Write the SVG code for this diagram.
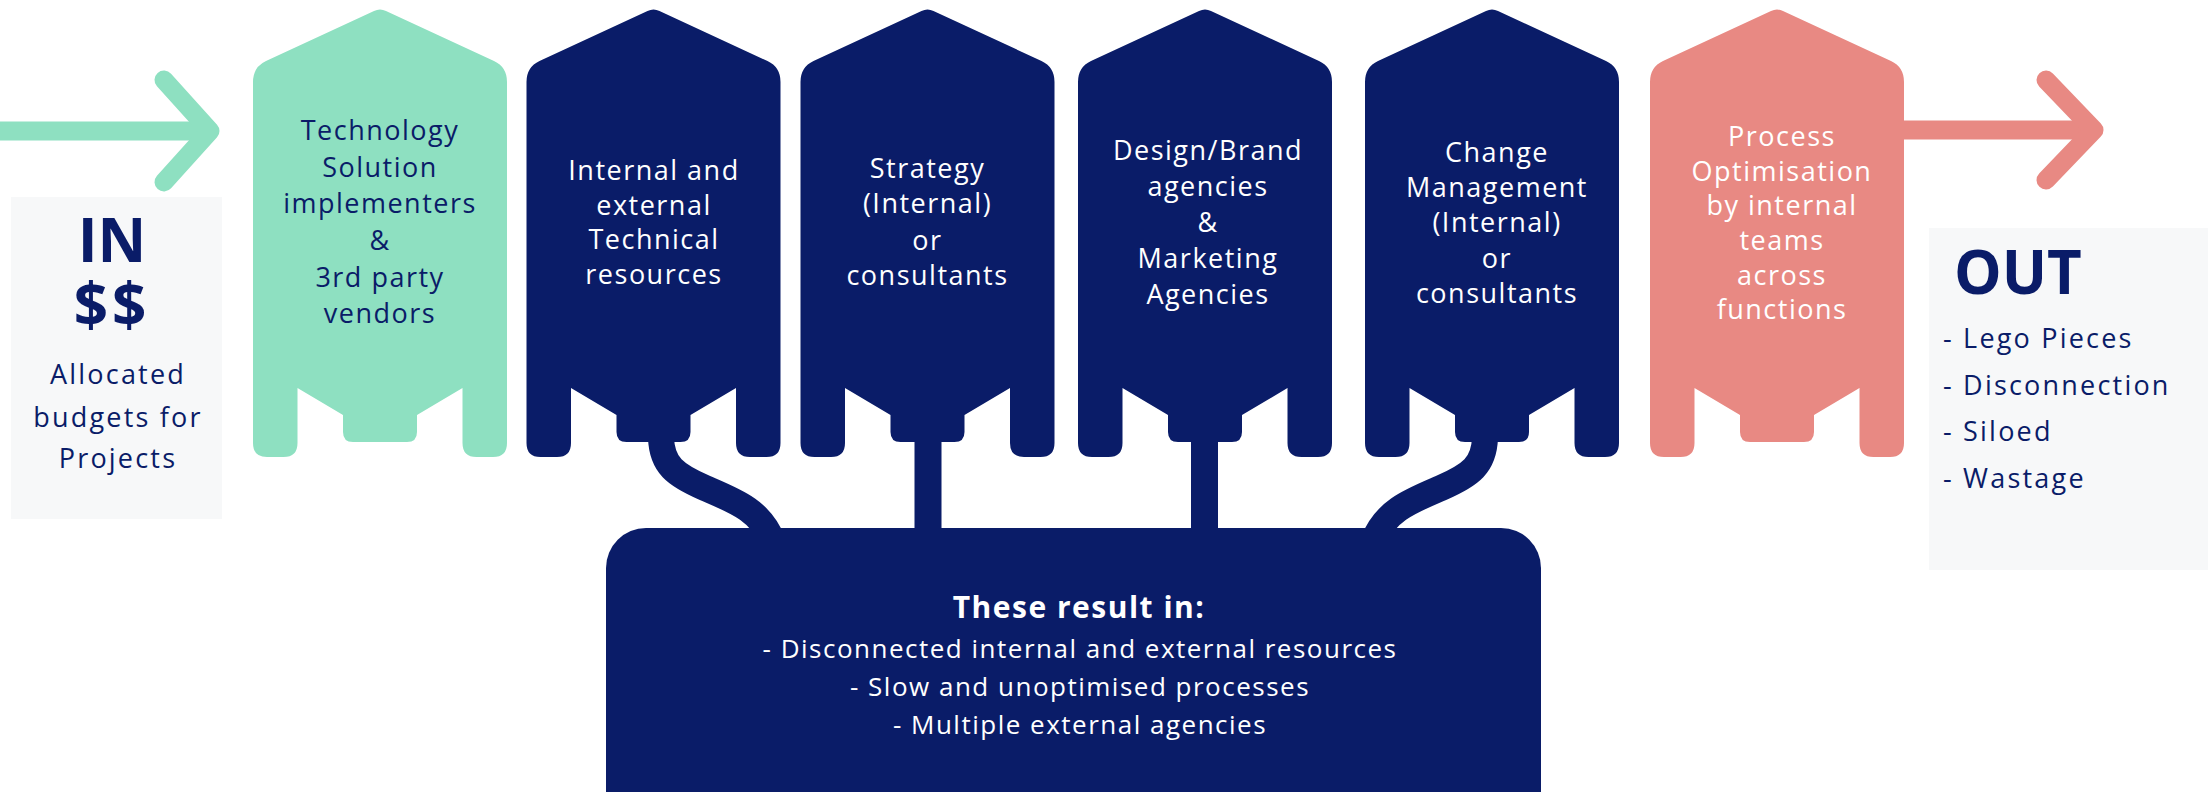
<svg xmlns="http://www.w3.org/2000/svg" xmlns:xlink="http://www.w3.org/1999/xlink" width="2208" height="797" viewBox="0 0 2208 797">
<style>
.navy{fill:#0a1c68}
.green{fill:#8ee0c1}
.pink{fill:#e88983}
.panel{fill:#f7f8f9}
text{font-family:"Open Sans","Noto Sans",sans-serif}
.st{font-size:27px;letter-spacing:1.5px;text-anchor:middle}
.dk{fill:#0a1c68}
.wh{fill:#ffffff}
.big{font-size:60px;font-weight:700;fill:#0a1c68}
.sm{font-size:27px;letter-spacing:2.2px;fill:#0a1c68}
.bt{font-size:30px;font-weight:700;letter-spacing:1.5px;fill:#ffffff;text-anchor:middle}
.bl{font-size:26px;letter-spacing:1.5px;fill:#ffffff;text-anchor:middle}
.tube{fill:none;stroke:#0a1c68;stroke-width:26}
.arr{fill:none;stroke-width:19;stroke-linecap:round;stroke-linejoin:round}
</style>
<defs>
<path id="silo" d="M -6 11 Q 0 8 6 11 L 114 61 Q 127 67 127 82 L 127 443 Q 127 457 113 457 L 96.5 457 Q 82.5 457 82.5 443 L 82.5 388 L 37 415 L 37 432 Q 37 442 27 442 L -27 442 Q -37 442 -37 432 L -37 415 L -82.5 388 L -82.5 443 Q -82.5 457 -96.5 457 L -113 457 Q -127 457 -127 443 L -127 82 Q -127 67 -114 61 Z"/>
</defs>

<g id="arrow-in">
<line x1="0" y1="131" x2="208" y2="131" class="arr" stroke="#8ee0c1" stroke-linecap="butt"/>
<path d="M 164 80 L 210 131 L 164 182" class="arr" stroke="#8ee0c1"/>
</g>
<g id="arrow-out">
<line x1="1900" y1="130" x2="2092" y2="130" class="arr" stroke="#e88983"/>
<path d="M 2046 80 L 2094 130 L 2046 180" class="arr" stroke="#e88983"/>
</g>

<g id="connectors">
<path class="tube" d="M 661 438 C 662 465 675 475 705 488 C 735 501 760 510 772 540"/>
<rect x="914.5" y="438" width="27" height="100" class="navy"/>
<rect x="1191" y="438" width="27" height="100" class="navy"/>
<path class="tube" d="M 1485 438 C 1484 465 1471 475 1441 488 C 1411 501 1386 510 1374 540"/>
</g>

<g id="in-box">
<rect x="11" y="197" width="211" height="322" class="panel"/>
<text class="big" text-anchor="middle"><tspan x="112" y="262">IN</tspan><tspan x="112" y="326" letter-spacing="4">$$</tspan></text>
<text x="118" y="384" class="sm" text-anchor="middle">Allocated</text>
<text x="118" y="427" class="sm" text-anchor="middle">budgets for</text>
<text x="118" y="468" class="sm" text-anchor="middle">Projects</text>
</g>

<g id="silo-tech">
<use xlink:href="#silo" href="#silo" x="380" class="green"/>
<text class="st dk" x="380" y="140">Technology</text>
<text class="st dk" x="380" y="177">Solution</text>
<text class="st dk" x="380" y="213">implementers</text>
<text class="st dk" x="380" y="250">&amp;</text>
<text class="st dk" x="380" y="287">3rd party</text>
<text class="st dk" x="380" y="323">vendors</text>
</g>

<g id="silo-internal">
<use xlink:href="#silo" href="#silo" x="653.5" class="navy"/>
<text class="st wh" x="654" y="180">Internal and</text>
<text class="st wh" x="654" y="215">external</text>
<text class="st wh" x="654" y="249">Technical</text>
<text class="st wh" x="654" y="284">resources</text>
</g>

<g id="silo-strategy">
<use xlink:href="#silo" href="#silo" x="927.5" class="navy"/>
<text class="st wh" x="927.5" y="178">Strategy</text>
<text class="st wh" x="927.5" y="213">(Internal)</text>
<text class="st wh" x="927.5" y="250">or</text>
<text class="st wh" x="927.5" y="285">consultants</text>
</g>

<g id="silo-design">
<use xlink:href="#silo" href="#silo" x="1205" class="navy"/>
<text class="st wh" x="1208" y="160">Design/Brand</text>
<text class="st wh" x="1208" y="196">agencies</text>
<text class="st wh" x="1208" y="232">&amp;</text>
<text class="st wh" x="1208" y="268">Marketing</text>
<text class="st wh" x="1208" y="304">Agencies</text>
</g>

<g id="silo-change">
<use xlink:href="#silo" href="#silo" x="1492" class="navy"/>
<text class="st wh" x="1497" y="162">Change</text>
<text class="st wh" x="1497" y="197">Management</text>
<text class="st wh" x="1497" y="232">(Internal)</text>
<text class="st wh" x="1497" y="268">or</text>
<text class="st wh" x="1497" y="303">consultants</text>
</g>

<g id="silo-process">
<use xlink:href="#silo" href="#silo" x="1777" class="pink"/>
<text class="st wh" x="1782" y="146">Process</text>
<text class="st wh" x="1782" y="181">Optimisation</text>
<text class="st wh" x="1782" y="215">by internal</text>
<text class="st wh" x="1782" y="250">teams</text>
<text class="st wh" x="1782" y="285">across</text>
<text class="st wh" x="1782" y="319">functions</text>
</g>

<g id="out-box">
<rect x="1929" y="228" width="279" height="342" class="panel"/>
<text x="1954" y="294" class="big">OUT</text>
<text x="1943" y="348" class="sm">- Lego Pieces</text>
<text x="1943" y="395" class="sm">- Disconnection</text>
<text x="1943" y="441" class="sm">- Siloed</text>
<text x="1943" y="488" class="sm">- Wastage</text>
</g>

<g id="result-box">
<path class="navy" d="M 606 792 L 606 568 A 40 40 0 0 1 646 528 L 1501 528 A 40 40 0 0 1 1541 568 L 1541 792 Z"/>
<text class="bt" x="1079" y="618">These result in:</text>
<text class="bl" x="1080" y="658">- Disconnected internal and external resources</text>
<text class="bl" x="1080" y="696">- Slow and unoptimised processes</text>
<text class="bl" x="1080" y="734">- Multiple external agencies</text>
</g>
</svg>
